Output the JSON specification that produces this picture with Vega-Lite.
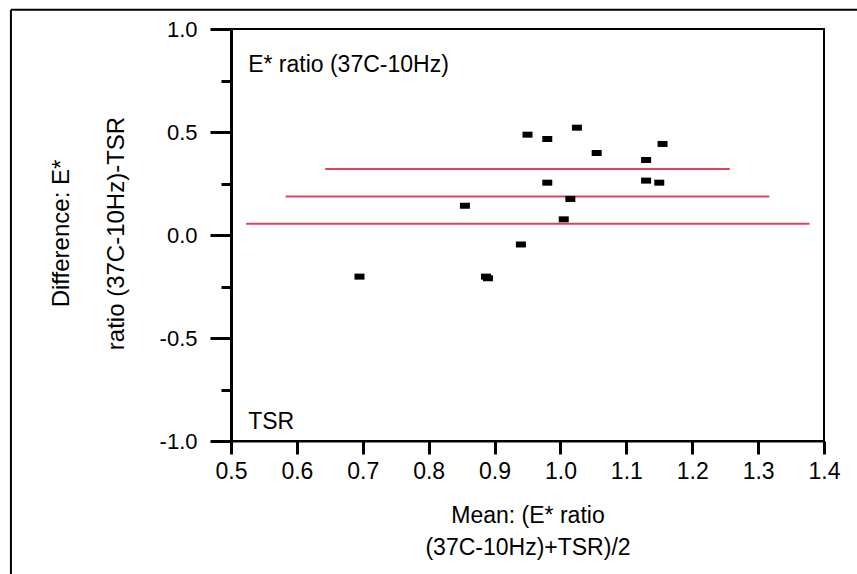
{
  "$schema": "https://vega.github.io/schema/vega-lite/v6.json",
  "autosize": {"type": "none"},
  "padding": {"left": 231, "top": 29, "right": 33, "bottom": 133},
  "width": 593,
  "height": 412,
  "background": "white",
  "config": {
    "view": {"stroke": "black", "strokeWidth": 2},
    "font": "Liberation Sans",
    "axis": {"grid": false, "domainColor": "black", "tickColor": "black", "labelColor": "black", "titleColor": "black", "titleFontWeight": "normal", "labelFont": "Liberation Sans", "titleFont": "Liberation Sans"}
  },
  "datasets": {
    "points": [
      {"mean": 0.695, "diff": -0.202},
      {"mean": 0.855, "diff": 0.142},
      {"mean": 0.887, "diff": -0.202},
      {"mean": 0.890, "diff": -0.210},
      {"mean": 0.940, "diff": -0.046},
      {"mean": 0.950, "diff": 0.487},
      {"mean": 0.980, "diff": 0.466},
      {"mean": 0.980, "diff": 0.254},
      {"mean": 1.005, "diff": 0.076},
      {"mean": 1.015, "diff": 0.175},
      {"mean": 1.025, "diff": 0.521},
      {"mean": 1.055, "diff": 0.398},
      {"mean": 1.130, "diff": 0.364},
      {"mean": 1.130, "diff": 0.264},
      {"mean": 1.150, "diff": 0.254},
      {"mean": 1.155, "diff": 0.442}
    ],
    "limits": [
      {"line": "upper", "diff": 0.320, "start": 0.643, "end": 1.257},
      {"line": "bias", "diff": 0.187, "start": 0.583, "end": 1.317},
      {"line": "lower", "diff": 0.055, "start": 0.523, "end": 1.378}
    ],
    "notes": [
      {"label": "E* ratio (37C-10Hz)", "mean": 0.526, "diff": 0.789},
      {"label": "TSR", "mean": 0.526, "diff": -0.942}
    ],
    "frame": [
      {"left": 0.166, "top": 1.094, "bottom": -1.8, "right": 1.6}
    ]
  },
  "encoding": {
    "x": {
      "field": "mean", "type": "quantitative",
      "scale": {"domain": [0.5, 1.4], "nice": false, "zero": false},
      "axis": {
        "title": ["Mean: (E* ratio", "(37C-10Hz)+TSR)/2"],
        "values": [0.5, 0.6, 0.7, 0.8, 0.9, 1.0, 1.1, 1.2, 1.3, 1.4],
        "format": ".1f",
        "domainWidth": 2, "tickSize": 13, "tickWidth": 3,
        "labelFontSize": 23, "labelPadding": 6, "labelFlush": false, "labelOverlap": false,
        "titleFontSize": 23, "titleLineHeight": 32, "titleBaseline": "alphabetic", "titleY": 81, "titlePadding": 0
      }
    },
    "y": {
      "field": "diff", "type": "quantitative",
      "scale": {"domain": [-1, 1], "nice": false, "zero": false},
      "axis": {
        "title": ["Difference: E*", "ratio (37C-10Hz)-TSR"],
        "values": [-1, -0.75, -0.5, -0.25, 0, 0.25, 0.5, 0.75, 1],
        "labelExpr": "datum.value % 0.5 == 0 ? (datum.value < 0 ? '-' : '') + format(abs(datum.value), '.1f') : ''",
        "domainWidth": 3, "tickWidth": 3,
        "tickSize": {"condition": {"test": "datum.value % 0.5 == 0", "value": 21}, "value": 10},
        "labelFontSize": 22, "labelPadding": 13, "labelFlush": false, "labelOverlap": false,
        "titleFontSize": 24, "titleLineHeight": 55, "titleAngle": 270, "titleAlign": "center", "titleBaseline": "alphabetic", "titleX": -163, "titleY": 204
      }
    }
  },
  "layer": [
    {
      "data": {"name": "frame"},
      "mark": {"type": "rule", "color": "black", "strokeWidth": 2, "clip": false},
      "encoding": {
        "x": {"field": "left", "type": "quantitative"},
        "y": {"field": "top", "type": "quantitative"},
        "y2": {"field": "bottom"}
      }
    },
    {
      "data": {"name": "frame"},
      "mark": {"type": "rule", "color": "black", "strokeWidth": 2, "clip": false},
      "encoding": {
        "y": {"field": "top", "type": "quantitative"},
        "x": {"field": "left", "type": "quantitative"},
        "x2": {"field": "right"}
      }
    },
    {
      "data": {"name": "limits"},
      "mark": {"type": "rule", "color": "#e0405e", "strokeWidth": 2},
      "encoding": {
        "x": {"field": "start", "type": "quantitative"},
        "x2": {"field": "end"},
        "y": {"field": "diff", "type": "quantitative"}
      }
    },
    {
      "data": {"name": "points"},
      "mark": {"type": "point", "shape": "M-1,-0.6H1V0.6H-1Z", "size": 100, "filled": true, "color": "black", "opacity": 1}
    },
    {
      "data": {"name": "notes"},
      "mark": {"type": "text", "align": "left", "baseline": "alphabetic", "fontSize": 23, "color": "black", "font": "Liberation Sans"},
      "encoding": {"text": {"field": "label"}}
    }
  ]
}
